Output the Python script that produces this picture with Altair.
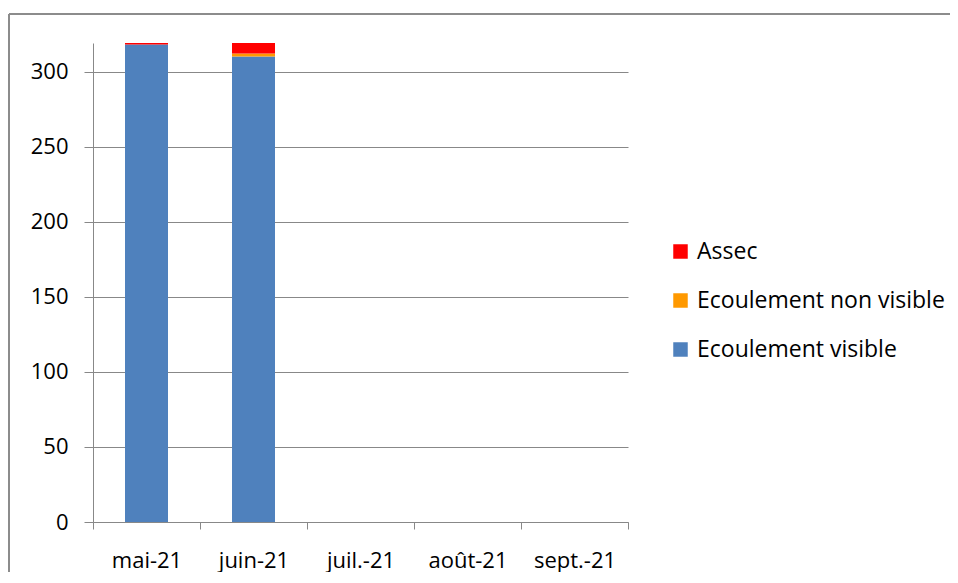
import altair as alt
import pandas as pd

months = ["mai-21", "juin-21", "juil.-21", "août-21", "sept.-21"]
series = ["Ecoulement visible", "Ecoulement non visible", "Assec"]
visible = [318, 310, 0, 0, 0]
non_visible = [0, 2, 0, 0, 0]
assec = [1, 7, 0, 0, 0]
colors = ["#4F81BD", "#FF9900", "#FF0000"]
y_ticks = [0, 50, 100, 150, 200, 250, 300]

rows = []
for i, m in enumerate(months):
    for order, (s, vals) in enumerate(zip(series, [visible, non_visible, assec])):
        rows.append({"mois": m, "serie": s, "valeur": vals[i], "ordre": order})
df = pd.DataFrame(rows)

FONT = "Open Sans"
FS = 22

bars = alt.Chart(df).mark_bar(size=43).encode(
    x=alt.X("mois:N", sort=months, title=None,
            scale=alt.Scale(paddingInner=0, paddingOuter=0),
            axis=alt.Axis(tickBand="extent", labelAngle=0, domainColor="#888888",
                          tickColor="#888888", tickSize=7, labelPadding=21,
                          labelFontSize=FS, labelFont=FONT, labelColor="#000000",
                          grid=False)),
    y=alt.Y("valeur:Q", stack="zero", title=None,
            scale=alt.Scale(domain=[0, 319], nice=False),
            axis=alt.Axis(values=y_ticks, domainColor="#888888", tickColor="#888888",
                          tickSize=9, labelPadding=16, labelFontSize=FS, labelFont=FONT,
                          labelColor="#000000", gridColor="#888888", gridWidth=1)),
    color=alt.Color("serie:N", sort=series,
                    scale=alt.Scale(domain=series, range=colors),
                    legend=alt.Legend(title=None, orient="none", legendX=576, legendY=197,
                                      symbolType="square", symbolSize=210,
                                      symbolStrokeWidth=0, labelFontSize=23,
                                      labelFont=FONT, labelColor="#000000", labelLimit=0,
                                      rowPadding=25, padding=0, labelOffset=5,
                                      values=["Assec", "Ecoulement non visible", "Ecoulement visible"])),
    order=alt.Order("ordre:Q"),
)

frame_top = alt.Chart(df).mark_rule(color="#8c8c8c", strokeWidth=2).encode(
    x=alt.value(-84), x2=alt.value(1000), y=alt.value(-29))
frame_left = alt.Chart(df).mark_rule(color="#8c8c8c", strokeWidth=2).encode(
    x=alt.value(-84), y=alt.value(-29), y2=alt.value(600))

chart = alt.layer(frame_top, frame_left, bars).properties(
    width=535, height=479,
    padding={"left": 85, "top": 35, "right": 322, "bottom": 50},
    autosize=alt.AutoSizeParams(type="none"),
).configure_view(stroke=None).configure_axis(domainWidth=1, tickWidth=1)

chart.save("out.html", embed_options={"renderer": "svg", "actions": False})
